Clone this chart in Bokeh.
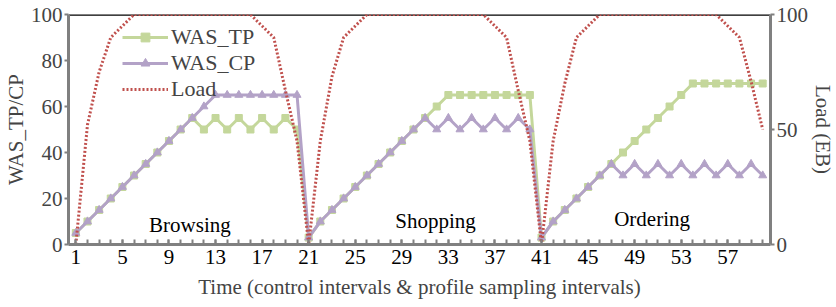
from bokeh.plotting import figure
from bokeh.models import (Range1d, LinearAxis, FixedTicker, Legend, LegendItem,
                          Span, Label)
from bokeh.embed import file_html
from bokeh.resources import INLINE

# ---------------- data ----------------
x = list(range(1, 61))

was_tp = [5, 10, 15, 20, 25, 30, 35, 40, 45, 50, 55, 50, 55, 50, 55, 50, 55, 50, 55, 50,
          3, 10, 15, 20, 25, 30, 35, 40, 45, 50, 55, 60, 65, 65, 65, 65, 65, 65, 65, 65,
          3, 10, 15, 20, 25, 30, 35, 40, 45, 50, 55, 60, 65, 70, 70, 70, 70, 70, 70, 70]

was_cp = [5, 10, 15, 20, 25, 30, 35, 40, 45, 50, 55, 60, 65, 65, 65, 65, 65, 65, 65, 65,
          3, 10, 15, 20, 25, 30, 35, 40, 45, 50, 55, 50, 55, 50, 55, 50, 55, 50, 55, 50,
          3, 10, 15, 20, 25, 30, 35, 30, 35, 30, 35, 30, 35, 30, 35, 30, 35, 30, 35, 30]

load = [0, 52, 75, 90, 95, 100, 100, 100, 100, 100, 100, 100, 100, 100, 100, 100, 95, 90, 67, 45,
        0, 45, 73, 90, 95, 100, 100, 100, 100, 100, 100, 100, 100, 100, 100, 100, 95, 90, 67, 45,
        0, 45, 70, 90, 95, 100, 100, 100, 100, 100, 100, 100, 100, 100, 100, 100, 95, 90, 71, 50]

x_tick_values = [1, 5, 9, 13, 17, 21, 25, 29, 33, 37, 41, 45, 49, 53, 57]
x_minor_ticks = list(range(1, 61))
left_ticks = [0, 20, 40, 60, 80, 100]
right_ticks = [0, 50, 100]

phase_names = ["Browsing", "Shopping", "Ordering"]
phase_x = [10.8, 31.9, 50.5]
phase_y = [8.3, 10.4, 11.3]

# ---------------- styles ----------------
FONT = "Liberation Serif"
GREEN = "#c4d79b"
PURPLE = "#b3a2c7"
RED = "#c0504d"
GRAY = "#808080"
FS = "21px"

p = figure(frame_width=702, frame_height=230,
           x_range=Range1d(0.37, 60.67), y_range=Range1d(0, 100),
           output_backend="svg", toolbar_location=None,
           min_border_left=66, min_border_right=58,
           min_border_top=14, min_border_bottom=62)
p.extra_y_ranges = {"load": Range1d(0, 100)}

p.xgrid.visible = False
p.ygrid.visible = False
p.outline_line_color = None
p.background_fill_color = "white"
p.border_fill_color = "white"

# x axis
xa = p.xaxis[0]
xa.ticker = FixedTicker(ticks=x_tick_values, minor_ticks=x_minor_ticks)
xa.axis_line_color = GRAY
xa.axis_line_width = 3
xa.major_tick_line_color = GRAY
xa.minor_tick_line_color = GRAY
xa.major_tick_line_width = 2
xa.minor_tick_line_width = 2
xa.major_tick_in = 5
xa.major_tick_out = 0
xa.minor_tick_in = 5
xa.minor_tick_out = 0
xa.major_label_standoff = 5
xa.major_label_text_font = FONT
xa.major_label_text_font_size = FS
xa.major_label_text_color = "black"
xa.axis_label = "Time (control intervals & profile sampling intervals)"
xa.axis_label_text_font = FONT
xa.axis_label_text_font_size = FS
xa.axis_label_text_font_style = "normal"
xa.axis_label_standoff = 8

# left axis
ya = p.yaxis[0]
ya.ticker = FixedTicker(ticks=left_ticks, minor_ticks=[])
ya.axis_line_color = GRAY
ya.axis_line_width = 3
ya.major_tick_line_color = GRAY
ya.major_tick_line_width = 2
ya.major_tick_in = 0
ya.major_tick_out = 4
ya.minor_tick_line_color = None
ya.major_label_standoff = 2
ya.major_label_text_font = FONT
ya.major_label_text_font_size = FS
ya.axis_label = "WAS_TP/CP"
ya.axis_label_text_font = FONT
ya.axis_label_text_font_size = FS
ya.axis_label_text_font_style = "normal"
ya.axis_label_standoff = 0

# right axis
ra = LinearAxis(y_range_name="load", ticker=FixedTicker(ticks=right_ticks, minor_ticks=[]))
ra.axis_line_color = GRAY
ra.axis_line_width = 3
ra.major_tick_line_color = GRAY
ra.major_tick_line_width = 2
ra.major_tick_in = 0
ra.major_tick_out = 4
ra.minor_tick_line_color = None
ra.major_label_standoff = 2
ra.major_label_text_font = FONT
ra.major_label_text_font_size = FS
ra.axis_label = "Load (EB)"
ra.axis_label_text_font = FONT
ra.axis_label_text_font_size = FS
ra.axis_label_text_font_style = "normal"
ra.axis_label_standoff = 0
p.add_layout(ra, "right")

# top black border
p.add_layout(Span(location=100, dimension="width", line_color="black", line_width=2.5,
                  level="underlay"))

# series
tp_line = p.line(x, was_tp, line_color=GREEN, line_width=3)
tp_mark = p.scatter(x, was_tp, marker="square", size=7, fill_color=GREEN, line_color=GREEN)
cp_line = p.line(x, was_cp, line_color=PURPLE, line_width=3)
cp_mark = p.scatter(x, was_cp, marker="triangle", size=8, fill_color=PURPLE, line_color=PURPLE)
ld_line = p.line(x, load, line_color=RED, line_width=3, line_dash="2 2",
                 y_range_name="load")

# phase labels
for name, px, py in zip(phase_names, phase_x, phase_y):
    p.add_layout(Label(x=px, y=py, text=name, text_font=FONT, text_font_size=FS,
                       text_align="center", text_baseline="middle", text_color="black"))

legend = Legend(items=[
    LegendItem(label="WAS_TP", renderers=[tp_line, tp_mark]),
    LegendItem(label="WAS_CP", renderers=[cp_line, cp_mark]),
    LegendItem(label="Load", renderers=[ld_line]),
], location=(54, 142))
legend.border_line_color = None
legend.background_fill_alpha = 0
legend.padding = 0
legend.margin = 0
legend.spacing = -2
legend.glyph_width = 46
legend.glyph_height = 22
legend.label_height = 22
legend.label_standoff = 3
legend.label_text_font = FONT
legend.label_text_font_size = "22px"
p.add_layout(legend)

open("out.html", "w").write(file_html(p, INLINE))
